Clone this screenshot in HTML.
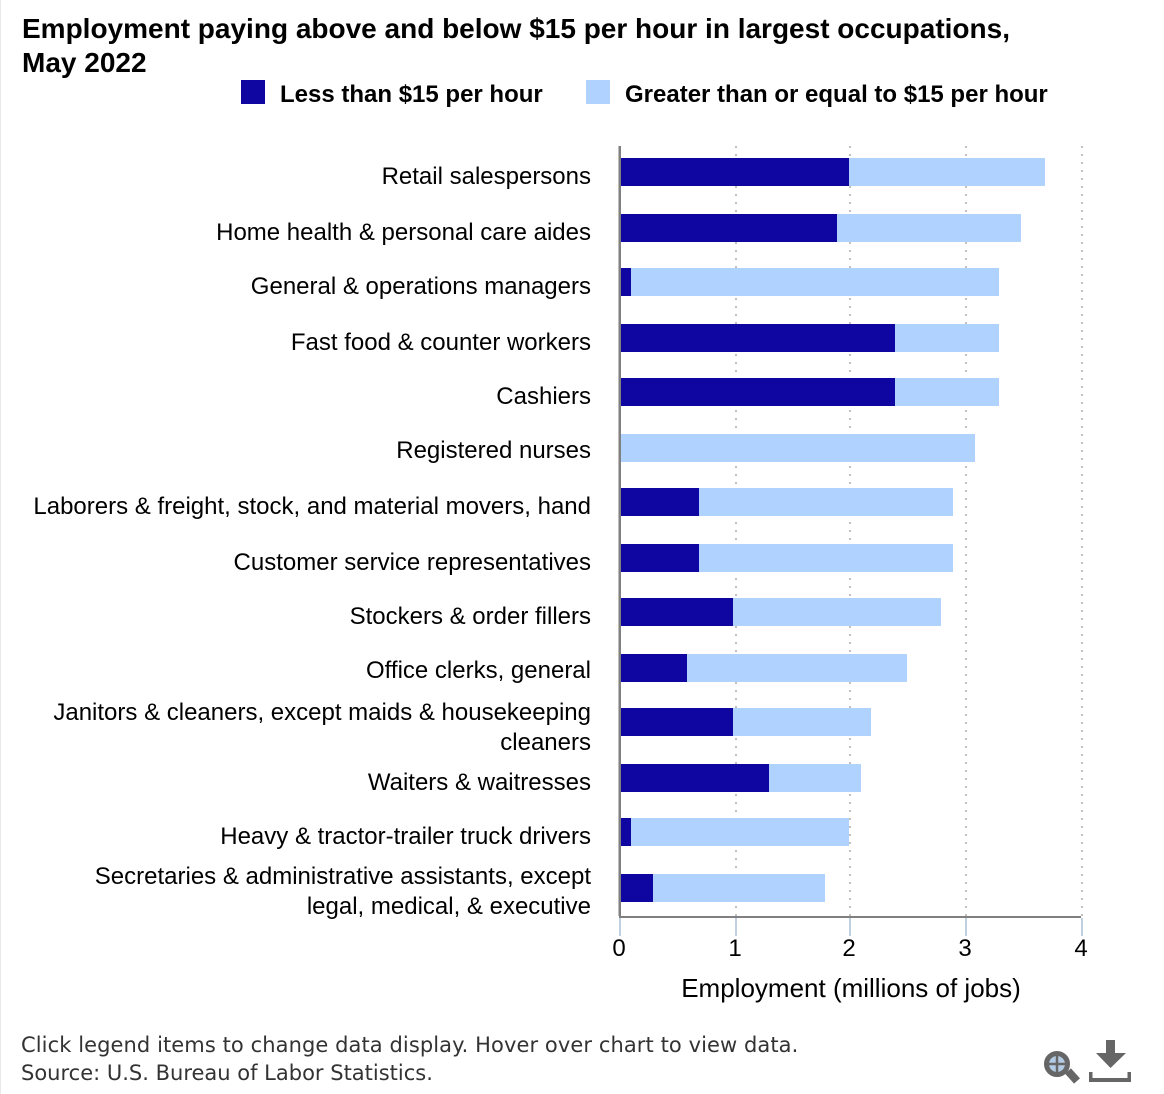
<!DOCTYPE html>
<html lang="en">
<head>
<meta charset="utf-8">
<title>Employment paying above and below $15 per hour</title>
<style>
html,body{margin:0;padding:0;background:#fff;width:1164px;height:1094px;overflow:hidden}
svg{display:block;position:absolute;left:0;top:0}
text{font-family:"Liberation Sans",Arial,sans-serif;fill:#000}
.foot{font-family:"DejaVu Sans",sans-serif;fill:#333;font-size:21px}
</style>
</head>
<body>
<svg id="chart" width="1164" height="1094" viewBox="0 0 1164 1094" xmlns="http://www.w3.org/2000/svg">
  <rect x="0" y="0" width="1" height="1094" fill="#e8e8e8"/>
  <g>
    <text x="22" y="38" font-weight="bold" font-size="28">Employment paying above and below $15 per hour in largest occupations,</text>
    <text x="22" y="72" font-weight="bold" font-size="28">May 2022</text>
  </g>
  <g style="cursor:pointer">
    <rect x="241" y="80" width="24" height="24" fill="#0f05a0"/>
    <text x="280" y="102" font-weight="bold" font-size="24">Less than $15 per hour</text>
  </g>
  <g style="cursor:pointer">
    <rect x="586" y="80" width="24" height="24" fill="#afd2ff"/>
    <text x="625" y="102" font-weight="bold" font-size="24">Greater than or equal to $15 per hour</text>
  </g>
  <g id="grid"></g>
  <g id="bars"></g>
  <g id="yaxis"></g>
  <g id="xaxis"></g>
  <text x="851" y="997" text-anchor="middle" font-size="26">Employment (millions of jobs)</text>
  <text class="foot" x="21" y="1052" letter-spacing="0.08">Click legend items to change data display. Hover over chart to view data.</text>
  <text class="foot" x="21" y="1080">Source: U.S. Bureau of Labor Statistics.</text>
  <g style="cursor:pointer">
    <line x1="1068" y1="1071" x2="1077" y2="1081" stroke="#666" stroke-width="8"/>
    <circle cx="1057" cy="1064" r="10.5" fill="#b4cbe4" stroke="#666" stroke-width="5"/>
    <path d="M1057 1056V1072M1049 1064H1065" stroke="#666" stroke-width="2.5" fill="none"/>
  </g>
  <g style="cursor:pointer">
    <path d="M1106 1040H1115V1053H1126L1110.500 1068L1096 1053H1106Z" fill="#666"/>
    <path d="M1089 1072H1092.500V1078H1127.500V1072H1131V1082H1089Z" fill="#666"/>
  </g>
</svg>
<script>
var categories = [
  "Retail salespersons",
  "Home health & personal care aides",
  "General & operations managers",
  "Fast food & counter workers",
  "Cashiers",
  "Registered nurses",
  "Laborers & freight, stock, and material movers, hand",
  "Customer service representatives",
  "Stockers & order fillers",
  "Office clerks, general",
  "Janitors & cleaners, except maids & housekeeping\ncleaners",
  "Waiters & waitresses",
  "Heavy & tractor-trailer truck drivers",
  "Secretaries & administrative assistants, except\nlegal, medical, & executive"
];
var lessThan15 = [1.98, 1.87, 0.09, 2.38, 2.38, 0, 0.68, 0.68, 0.97, 0.57, 0.97, 1.28, 0.09, 0.28];
var atLeast15 = [1.70, 1.60, 3.19, 0.90, 0.90, 3.07, 2.20, 2.20, 1.80, 1.91, 1.20, 0.80, 1.89, 1.49];
var xTickValues = [0, 1, 2, 3, 4];

var SVGNS = "http://www.w3.org/2000/svg";
var plotLeft = 620, plotTop = 146, plotBottom = 916, unitWidth = 115.4;
var rowStart = 158.3, rowStep = 55.05, barHeight = 28;

function snap(v) { return Math.round(v / 2) * 2; }
function xScale(v) { return plotLeft + snap(v * unitWidth); }
function barX(v) { return xScale(v) + 1; }
function rowTop(i) { return snap(rowStart + rowStep * i); }
function labelNudge(i) { return (i === 5 || i === 9 || i === 13) ? -2 : 0; }

function make(tag, attrs, parent) {
  var el = document.createElementNS(SVGNS, tag);
  for (var k in attrs) { el.setAttribute(k, attrs[k]); }
  parent.appendChild(el);
  return el;
}

var gridG = document.getElementById("grid");
var barsG = document.getElementById("bars");
var yG = document.getElementById("yaxis");
var xG = document.getElementById("xaxis");

xTickValues.forEach(function (t) {
  if (t === 0) { return; }
  var g = make("line", {x1: xScale(t), x2: xScale(t), y1: plotTop, y2: plotBottom, stroke: "#c0c0c0", "stroke-width": 2, "stroke-dasharray": "2 6"}, gridG);
  
  
});

categories.forEach(function (cat, i) {
  var top = rowTop(i);
  var x0 = barX(0);
  var x1 = barX(lessThan15[i]);
  var x2 = barX(lessThan15[i] + atLeast15[i]);

  var a = make("rect", {x: x0, y: top, width: x1 - x0, height: barHeight, fill: "#0f05a0"}, barsG);
  
  

  var b = make("rect", {x: x1, y: top, width: x2 - x1, height: barHeight, fill: "#afd2ff"}, barsG);
  
  

  var lines = cat.split("\n");
  var center = top + barHeight / 2;
  var first = (lines.length > 1 ? center - 2 : center + 12) + labelNudge(i);
  lines.forEach(function (line, j) {
    var t = make("text", {x: 591, y: first + j * 30, "text-anchor": "end", "font-size": 24}, yG);
    t.textContent = line;
    
    
  });
});

var yLight = make("rect", {x: 618, y: plotTop, width: 1, height: plotBottom - plotTop, fill: "#bdbdbd"}, yG);



var yLine = make("rect", {x: 619, y: plotTop, width: 2, height: plotBottom - plotTop + 2, fill: "#808080"}, yG);



var xLine = make("rect", {x: xScale(0) + 1, y: plotBottom, width: xScale(4) - xScale(0) - 2, height: 2, fill: "#808080"}, xG);



xTickValues.forEach(function (t) {
  var m = make("rect", {x: xScale(t) - 1, y: plotBottom + 2, width: 2, height: 18, fill: "#c0d0e0"}, xG);
  
  

  var lab = make("text", {x: xScale(t) - 1, y: 956, "text-anchor": "middle", "font-size": 24}, xG);
  lab.textContent = String(t);
  
  
});
</script>
</body>
</html>
